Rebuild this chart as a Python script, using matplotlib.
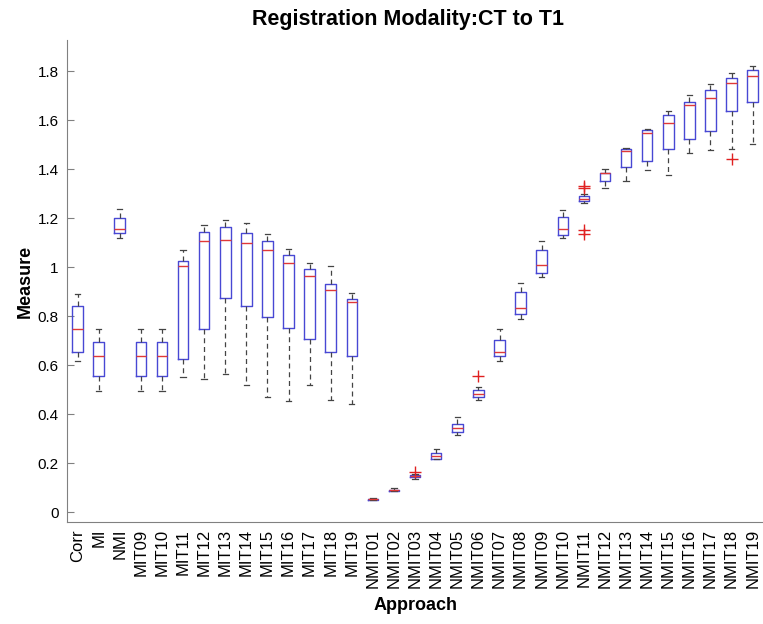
import matplotlib
matplotlib.use('Agg')
import matplotlib.pyplot as plt

plt.rcParams['font.family'] = ['Liberation Sans', 'DejaVu Sans']

# approach names, in plotting order
approaches = ['Corr', 'MI', 'NMI',
              'MIT09', 'MIT10', 'MIT11', 'MIT12', 'MIT13', 'MIT14', 'MIT15',
              'MIT16', 'MIT17', 'MIT18', 'MIT19',
              'NMIT01', 'NMIT02', 'NMIT03', 'NMIT04', 'NMIT05', 'NMIT06',
              'NMIT07', 'NMIT08', 'NMIT09', 'NMIT10', 'NMIT11', 'NMIT12',
              'NMIT13', 'NMIT14', 'NMIT15', 'NMIT16', 'NMIT17', 'NMIT18',
              'NMIT19']

# box statistics
whisker_low = [0.615, 0.494, 1.120,
               0.494, 0.494, 0.552, 0.543, 0.563, 0.520, 0.472,
               0.453, 0.521, 0.457, 0.440,
               0.049, 0.086, 0.136, 0.215, 0.313, 0.456,
               0.618, 0.788, 0.959, 1.118, 1.260, 1.322,
               1.350, 1.396, 1.377, 1.467, 1.478, 1.483,
               1.501]
q1 = [0.654, 0.554, 1.139,
      0.554, 0.554, 0.627, 0.746, 0.876, 0.841, 0.797,
      0.751, 0.706, 0.653, 0.639,
      0.051, 0.087, 0.142, 0.219, 0.327, 0.471,
      0.637, 0.808, 0.978, 1.133, 1.271, 1.350,
      1.407, 1.434, 1.484, 1.525, 1.556, 1.637,
      1.672]
medians = [0.746, 0.638, 1.157,
           0.638, 0.638, 1.005, 1.105, 1.109, 1.098, 1.069,
           1.016, 0.962, 0.906, 0.856,
           0.053, 0.090, 0.147, 0.229, 0.342, 0.482,
           0.653, 0.834, 1.007, 1.155, 1.279, 1.384,
           1.473, 1.547, 1.589, 1.660, 1.690, 1.750,
           1.782]
q3 = [0.841, 0.693, 1.201,
      0.693, 0.693, 1.027, 1.144, 1.162, 1.140, 1.107,
      1.050, 0.994, 0.931, 0.868,
      0.055, 0.092, 0.151, 0.240, 0.359, 0.498,
      0.702, 0.899, 1.072, 1.203, 1.290, 1.386,
      1.482, 1.558, 1.620, 1.675, 1.722, 1.770,
      1.803]
whisker_high = [0.890, 0.748, 1.237,
                0.748, 0.748, 1.069, 1.173, 1.193, 1.182, 1.135,
                1.073, 1.016, 1.003, 0.895,
                0.057, 0.097, 0.155, 0.256, 0.389, 0.512,
                0.746, 0.937, 1.107, 1.234, 1.298, 1.399,
                1.487, 1.565, 1.637, 1.701, 1.746, 1.793,
                1.820]
outliers = {'NMIT03': [0.163],
            'NMIT06': [0.556],
            'NMIT11': [1.322, 1.330, 1.150, 1.137],
            'NMIT18': [1.440]}

stats = []
for i, name in enumerate(approaches):
    stats.append({'label': name,
                  'whislo': whisker_low[i], 'q1': q1[i], 'med': medians[i],
                  'q3': q3[i], 'whishi': whisker_high[i],
                  'fliers': outliers.get(name, [])})

fig = plt.figure(figsize=(7.63, 6.24), dpi=100)
ax = fig.add_axes([0.0878, 0.1635, 0.9125, 0.7724])

blue = '#4848d4'
ax.bxp(stats, positions=range(1, len(approaches) + 1), widths=0.5,
       showfliers=True,
       boxprops=dict(color=blue, linewidth=1.0),
       medianprops=dict(color='#e03838', linewidth=1.0),
       whiskerprops=dict(color='#444444', linestyle=(0, (4, 3)), linewidth=0.9),
       capprops=dict(color='#444444', linewidth=0.9),
       flierprops=dict(marker='+', markeredgecolor='#e02020', markersize=8,
                       markeredgewidth=1.0, linestyle='none'))

ax.set_xlim(0.5, 33.5)
ax.set_ylim(-0.04, 1.927)
ax.set_yticks([0, 0.2, 0.4, 0.6, 0.8, 1.0, 1.2, 1.4, 1.6, 1.8])
ax.set_yticklabels(['0', '0.2', '0.4', '0.6', '0.8', '1', '1.2', '1.4', '1.6', '1.8'],
                   fontsize=11)
ax.set_xticks(range(1, len(approaches) + 1))
ax.set_xticklabels(approaches, rotation=90, fontsize=12)

ax.spines['top'].set_visible(False)
ax.spines['right'].set_visible(False)
ax.spines['left'].set_color('#808080')
ax.spines['bottom'].set_color('#808080')
ax.tick_params(axis='y', direction='in', length=5, color='#808080', pad=6)
ax.tick_params(axis='x', length=0, pad=5)

ax.set_title('Registration Modality:CT to T1', fontsize=15.5, fontweight='bold',
             pad=11, x=0.49)
ax.set_xlabel('Approach', fontsize=13, fontweight='bold', labelpad=6)
ax.set_ylabel('Measure', fontsize=13, fontweight='bold', labelpad=3)

fig.savefig('out.png', dpi=100)
